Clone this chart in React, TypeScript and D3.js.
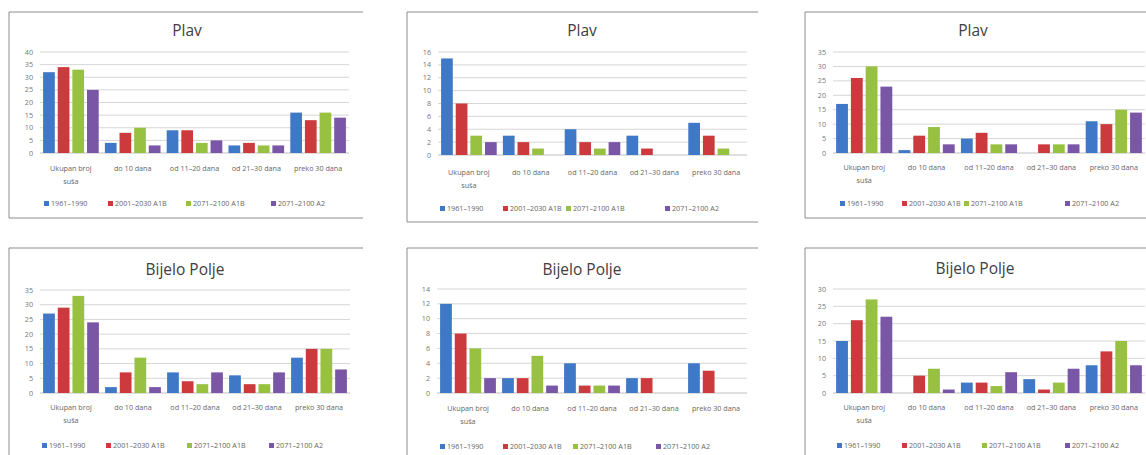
import React from "react";
import * as d3 from "d3";

const categories = ["Ukupan broj|suša", "do 10 dana", "od 11–20 dana", "od 21–30 dana", "preko 30 dana"];
const seriesNames = ["1961–1990", "2001–2030 A1B", "2071–2100 A1B", "2071–2100 A2"];
const seriesColors = ["#3F78C6", "#CC3A3D", "#98C142", "#7A56A6"];

// values per panel: [series][category]
const plav1 = [
  [32, 4, 9, 3, 16],
  [34, 8, 9, 4, 13],
  [33, 10, 4, 3, 16],
  [25, 3, 5, 3, 14],
];
const plav2 = [
  [15, 3, 4, 3, 5],
  [8, 2, 2, 1, 3],
  [3, 1, 1, 0, 1],
  [2, 0, 2, 0, 0],
];
const plav3 = [
  [17, 1, 5, 0, 11],
  [26, 6, 7, 3, 10],
  [30, 9, 3, 3, 15],
  [23, 3, 3, 3, 14],
];
const bp1 = [
  [27, 2, 7, 6, 12],
  [29, 7, 4, 3, 15],
  [33, 12, 3, 3, 15],
  [24, 2, 7, 7, 8],
];
const bp2 = [
  [12, 2, 4, 2, 4],
  [8, 2, 1, 2, 3],
  [6, 5, 1, 0, 0],
  [2, 1, 1, 0, 0],
];
const bp3 = [
  [15, 0, 3, 4, 8],
  [21, 5, 3, 1, 12],
  [27, 7, 2, 3, 15],
  [22, 1, 6, 7, 8],
];

const ticks40 = [0, 5, 10, 15, 20, 25, 30, 35, 40];
const ticks16 = [0, 2, 4, 6, 8, 10, 12, 14, 16];
const ticks35 = [0, 5, 10, 15, 20, 25, 30, 35];
const ticks14 = [0, 2, 4, 6, 8, 10, 12, 14];
const ticks30 = [0, 5, 10, 15, 20, 25, 30];

type Panel = {
  title: string;
  data: number[][];
  ticks: number[];
  frame: { x0: number; x1: number; y0: number; y1: number | null };
  titleX: number;
  titleY: number;
  plot: { x0: number; x1: number; yTop: number; yBottom: number };
  catY: number;
  legendY: number;
  legendX: number[];
};

const panels: Panel[] = [
  {
    title: "Plav", data: plav1, ticks: ticks40,
    frame: { x0: 9, x1: 363, y0: 12, y1: 218 },
    titleX: 187, titleY: 36,
    plot: { x0: 40, x1: 349, yTop: 52, yBottom: 153 },
    catY: 171, legendY: 206, legendX: [44, 108, 186, 271],
  },
  {
    title: "Plav", data: plav2, ticks: ticks16,
    frame: { x0: 407, x1: 758, y0: 12, y1: 222 },
    titleX: 582, titleY: 36,
    plot: { x0: 438, x1: 747, yTop: 52, yBottom: 155 },
    catY: 175, legendY: 211, legendX: [440, 503, 566, 665],
  },
  {
    title: "Plav", data: plav3, ticks: ticks35,
    frame: { x0: 805, x1: 1160, y0: 12, y1: 218 },
    titleX: 973, titleY: 36,
    plot: { x0: 833, x1: 1145, yTop: 52, yBottom: 153 },
    catY: 170, legendY: 206, legendX: [840, 902, 964, 1065],
  },
  {
    title: "Bijelo Polje", data: bp1, ticks: ticks35,
    frame: { x0: 9, x1: 363, y0: 248, y1: null },
    titleX: 185, titleY: 275,
    plot: { x0: 40, x1: 350, yTop: 290, yBottom: 393 },
    catY: 410, legendY: 448, legendX: [42, 106, 187, 269],
  },
  {
    title: "Bijelo Polje", data: bp2, ticks: ticks14,
    frame: { x0: 407, x1: 758, y0: 248, y1: null },
    titleX: 582, titleY: 275,
    plot: { x0: 437, x1: 747, yTop: 289, yBottom: 393 },
    catY: 411, legendY: 449, legendX: [440, 503, 573, 656],
  },
  {
    title: "Bijelo Polje", data: bp3, ticks: ticks30,
    frame: { x0: 805, x1: 1160, y0: 248, y1: null },
    titleX: 975, titleY: 274,
    plot: { x0: 833, x1: 1145, yTop: 289, yBottom: 393 },
    catY: 410, legendY: 448, legendX: [837, 902, 982, 1065],
  },
];

const FONT = "'Open Sans', 'Noto Sans', sans-serif";

function ChartPanel({ p }: { p: Panel }) {
  const maxT = p.ticks[p.ticks.length - 1];
  const y = d3.scaleLinear().domain([0, maxT]).range([p.plot.yBottom, p.plot.yTop]);
  const x0 = d3.scaleBand<string>().domain(categories).range([p.plot.x0, p.plot.x1]).paddingInner(0.1).paddingOuter(0.05);
  const x1 = d3.scaleBand<string>().domain(seriesNames).range([0, x0.bandwidth()]).paddingInner(0.2);
  const f = p.frame;
  return (
    <g>
      <rect x={f.x0} y={f.y0} width={f.x1 - f.x0} height={(f.y1 ?? 470) - f.y0} fill="#fff" />
      <line x1={f.x0} x2={f.x1} y1={f.y0} y2={f.y0} stroke="#8c8c8c" strokeWidth={1} />
      <line x1={f.x0} x2={f.x0} y1={f.y0} y2={f.y1 ?? 470} stroke="#8c8c8c" strokeWidth={1} />
      {f.y1 !== null && <line x1={f.x0} x2={f.x1} y1={f.y1} y2={f.y1} stroke="#8c8c8c" strokeWidth={1} />}
      <text x={p.titleX} y={p.titleY} textAnchor="middle" fontFamily={FONT} fontSize={15.5} fill="#404040">{p.title}</text>
      {p.ticks.map((t) => (
        <g key={t}>
          <line x1={p.plot.x0} x2={p.plot.x1} y1={y(t)} y2={y(t)} stroke={t === 0 ? "#bfbfbf" : "#d6d6d6"} strokeWidth={1} />
          <text x={p.plot.x0 - 7} y={y(t) + 2.6} textAnchor="end" fontFamily={FONT} fontSize={7.2} fill="#777">{t}</text>
        </g>
      ))}
      {categories.map((c, ci) => (
        <g key={c}>
          {seriesNames.map((s, si) => {
            const v = p.data[si][ci];
            if (!v) return null;
            return (
              <rect key={s} x={(x0(c) ?? 0) + (x1(s) ?? 0)} y={y(v)} width={x1.bandwidth()} height={y(0) - y(v)} fill={seriesColors[si]} />
            );
          })}
          {c.split("|").map((line, li) => (
            <text key={li} x={(x0(c) ?? 0) + x0.bandwidth() / 2} y={p.catY + li * 13} textAnchor="middle" fontFamily={FONT} fontSize={7.2} fill="#666">{line}</text>
          ))}
        </g>
      ))}
      {seriesNames.map((s, si) => (
        <g key={s}>
          <rect x={p.legendX[si]} y={p.legendY - 5} width={5} height={5} fill={seriesColors[si]} />
          <text x={p.legendX[si] + 7} y={p.legendY} fontFamily={FONT} fontSize={7.2} fill="#666">{s}</text>
        </g>
      ))}
    </g>
  );
}

export default function App() {
  return (
    <svg width={1146} height={455} style={{ position: "absolute", left: 0, top: 0, background: "#fff" }}>
      <rect x={0} y={0} width={1146} height={455} fill="#fff" />
      {panels.map((p, i) => (
        <ChartPanel key={i} p={p} />
      ))}
    </svg>
  );
}
